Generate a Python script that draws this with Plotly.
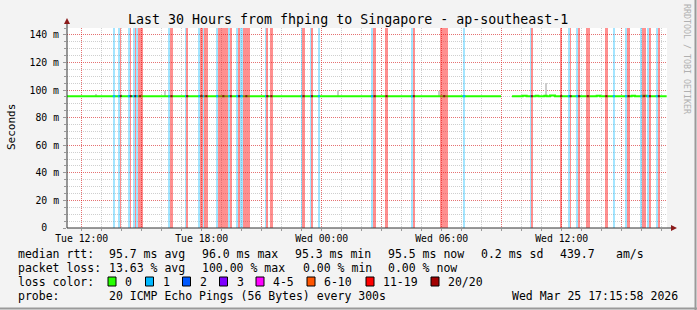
import plotly.graph_objects as go
from datetime import datetime, timedelta

# ---------------- data ----------------
WINDOW_START = "2026-03-24 11:15:58"
WINDOW_END = "2026-03-25 17:15:58"
DAY = {"Tue": "2026-03-24", "Wed": "2026-03-25"}

# loss periods (lost pings out of 20)
loss_start = ["Tue 13:33", "Tue 13:48", "Tue 13:55", "Tue 14:18", "Tue 14:25", "Tue 14:33", "Tue 14:39",
              "Tue 14:42", "Tue 14:48", "Tue 16:20", "Tue 16:24", "Tue 17:10", "Tue 17:13", "Tue 17:50",
              "Tue 17:55", "Tue 18:03", "Tue 18:08", "Tue 18:43", "Tue 18:50", "Tue 19:20", "Tue 19:25",
              "Tue 19:43", "Tue 19:50", "Tue 19:55", "Tue 20:03", "Tue 21:10", "Tue 21:14", "Tue 21:25",
              "Tue 22:57", "Tue 23:02", "Tue 23:25", "Tue 23:28", "Tue 23:48",
              "Wed 02:28", "Wed 02:35", "Wed 03:11", "Wed 04:28", "Wed 04:33", "Wed 05:56", "Wed 07:03",
              "Wed 10:26", "Wed 10:28", "Wed 11:55", "Wed 12:18", "Wed 12:25", "Wed 12:42", "Wed 12:50",
              "Wed 13:12", "Wed 14:10", "Wed 14:33", "Wed 15:10", "Wed 15:17", "Wed 15:56", "Wed 16:02",
              "Wed 16:15", "Wed 16:23", "Wed 16:42", "Wed 16:48"]
loss_end = ["Tue 13:41", "Tue 13:55", "Tue 13:59", "Tue 14:25", "Tue 14:29", "Tue 14:39", "Tue 14:42",
            "Tue 14:48", "Tue 15:03", "Tue 16:24", "Tue 16:35", "Tue 17:13", "Tue 17:20", "Tue 17:55",
            "Tue 18:03", "Tue 18:08", "Tue 18:20", "Tue 18:50", "Tue 19:20", "Tue 19:25", "Tue 19:30",
            "Tue 19:50", "Tue 19:55", "Tue 20:03", "Tue 20:25", "Tue 21:14", "Tue 21:20", "Tue 21:33",
            "Tue 23:02", "Tue 23:10", "Tue 23:28", "Tue 23:34", "Tue 23:55",
            "Wed 02:35", "Wed 02:43", "Wed 03:18", "Wed 04:33", "Wed 04:40", "Wed 06:19", "Wed 07:11",
            "Wed 10:28", "Wed 10:33", "Wed 12:02", "Wed 12:25", "Wed 12:28", "Wed 12:50", "Wed 12:55",
            "Wed 13:25", "Wed 14:18", "Wed 14:40", "Wed 15:17", "Wed 15:25", "Wed 16:02", "Wed 16:13",
            "Wed 16:23", "Wed 16:27", "Wed 16:48", "Wed 16:55"]
loss_count = [1, 1, 15, 1, 15, 1, 15, 1, 15, 1, 15, 1, 15, 1, 15, 1, 15, 1, 15, 1, 15,
              1, 15, 1, 15, 1, 15, 15, 1, 15, 1, 15, 1,
              1, 15, 15, 1, 15, 15, 1,
              1, 15, 15, 1, 15, 1, 15, 15, 15, 1, 1, 15, 1, 15, 1, 15, 1, 15]

# median rtt (ms); None = no data
median_time = ["Tue 11:16", "Wed 08:58", "Wed 08:59", "Wed 09:31", "Wed 10:03", "Wed 10:15", "Wed 10:42",
               "Wed 10:50", "Wed 11:08", "Wed 11:15", "Wed 11:25", "Wed 11:40", "Wed 13:45", "Wed 13:55",
               "Wed 15:30", "Wed 15:40", "Wed 16:05", "Wed 16:15", "Wed 17:15"]
median_ms = [95.6, 95.6, None, 95.5, 95.8, 95.5, 95.8, 95.5, 95.8, 95.5, 96.0, 95.6, 95.8, 95.5,
             95.8, 95.5, 95.8, 95.5, 95.5]

# smoke (ping spread)
smoke_time = ["Tue 12:43", "Tue 16:10", "Wed 00:50", "Wed 05:52", "Wed 11:14"]
smoke_lo = [95.5, 95.8, 95.8, 95.8, 95.7]
smoke_hi = [97.0, 99.4, 100.0, 99.3, 105.3]

y_ticks = [0, 20, 40, 60, 80, 100, 120, 140]
y_tick_labels = ["0\u00a0\u00a0", "20 m", "40 m", "60 m", "80 m", "100 m", "120 m", "140 m"]
x_label_times = ["Tue 12:00", "Tue 18:00", "Wed 00:00", "Wed 06:00", "Wed 12:00"]
x_grid_times = ["Tue 12:00", "Tue 15:00", "Tue 18:00", "Tue 21:00", "Wed 00:00", "Wed 03:00",
                "Wed 06:00", "Wed 09:00", "Wed 12:00", "Wed 15:00"]

loss_bins = ["0", "1", "2", "3", "4-5", "6-10", "11-19", "20/20"]
loss_bin_max = [0, 1, 2, 3, 5, 10, 19, 20]
loss_bin_colors = ["#26ff00", "#00b8ff", "#0059ff", "#7e00ff", "#ff00ff", "#ff5500", "#ff0000", "#a10000"]

rtt_stats = [("median rtt:", 16), ("95.7 ms avg", 107), ("96.0 ms max", 200), ("95.3 ms min", 293),
             ("95.5 ms now", 386), ("0.2 ms sd", 479), ("439.7", 558), ("am/s", 614)]
loss_stats = [("packet loss:", 16), ("13.63 % avg", 107), ("100.00 % max", 200), ("0.00 % min", 300.5),
              ("0.00 % now", 386)]
probe_text = "20 ICMP Echo Pings (56 Bytes) every 300s"
stamp_text = "Wed Mar 25 17:15:58 2026"
title_text = "Last 30 Hours from fhping to Singapore - ap-southeast-1"

# ---------------- helpers ----------------
def ts(s):
    d, t = s.split()
    return datetime.strptime(DAY[d] + " " + t, "%Y-%m-%d %H:%M")

def bin_color(n):
    for mx, c in zip(loss_bin_max, loss_bin_colors):
        if n <= mx:
            return c
    return loss_bin_colors[-1]

def rgba(hexc, a):
    h = hexc.lstrip("#")
    return "rgba(%d,%d,%d,%.3f)" % (int(h[0:2], 16), int(h[2:4], 16), int(h[4:6], 16), a)

W, H = 697, 310
PL, PR, PT, PB = 67, 667, 28, 228
def px(x):
    return (x - PL) / (PR - PL)
def py(y):
    return (PB - y) / (PB - PT)

MONO = "DejaVu Sans Mono"
fig = go.Figure()

# loss background bands
starts = [ts(s) for s in loss_start]
ends = [ts(s) for s in loss_end]
mids = [a + (b - a) / 2 for a, b in zip(starts, ends)]
widths = [(b - a).total_seconds() * 1000 for a, b in zip(starts, ends)]
band_colors = [rgba(bin_color(n), 0.36 if n == 1 else 0.44) for n in loss_count]
fig.add_trace(go.Bar(x=mids, y=[1] * len(mids), width=widths, base=0, yaxis="y2",
                     marker=dict(color=band_colors, line=dict(width=0)), hoverinfo="skip", showlegend=False))

# smoke
st = [ts(s) for s in smoke_time]
fig.add_trace(go.Bar(x=st, y=[h - l for l, h in zip(smoke_lo, smoke_hi)], base=smoke_lo,
                     width=[6 * 60 * 1000] * len(st), marker=dict(color="#cccccc", line=dict(width=0)),
                     hoverinfo="skip", showlegend=False))

# median line
fig.add_trace(go.Scatter(x=[ts(s) for s in median_time], y=median_ms, mode="lines",
                         line=dict(color=loss_bin_colors[0], width=2, shape="hv"),
                         connectgaps=False, hoverinfo="skip", showlegend=False))

# loss-coloured pieces of the median line
seg_x, seg_y = [], []
dot_x, dot_y = [], []
for a, b, n in zip(starts, ends, loss_count):
    if n == 1:
        seg_x += [a, b, None]
        seg_y += [95.6, 95.6, None]
    else:
        dot_x.append(a + (b - a) / 2)
        dot_y.append(95.6)
fig.add_trace(go.Scatter(x=seg_x, y=seg_y, mode="lines", line=dict(color=loss_bin_colors[1], width=2),
                         hoverinfo="skip", showlegend=False))
fig.add_trace(go.Scatter(x=dot_x, y=dot_y, mode="markers",
                         marker=dict(color="#222222", size=2, symbol="square"),
                         hoverinfo="skip", showlegend=False))

GRID_MAJOR = "rgba(255,0,0,0.45)"
GRID_MINOR = "rgba(128,128,128,0.38)"
DOTS = "1px,1px"

fig.update_layout(
    width=W, height=H,
    margin=dict(l=PL, r=W - PR, t=PT, b=H - PB, pad=0),
    paper_bgcolor="#f3f3f3", plot_bgcolor="#ffffff",
    barmode="overlay", bargap=0,
    font=dict(family=MONO, size=10, color="#000000"),
    xaxis=dict(
        type="date", range=[WINDOW_START, WINDOW_END],
        tickmode="array", tickvals=[ts(s) for s in x_grid_times],
        ticktext=[s if s in x_label_times else "" for s in x_grid_times],
        showgrid=True, gridcolor=GRID_MAJOR, griddash=DOTS, gridwidth=1,
        ticks="outside", ticklen=2, tickcolor="#999999",
        tickfont=dict(family=MONO, size=9.8, color="#000000"),
        minor=dict(tickmode="linear", tick0="2026-03-24 12:00", dtick=3600000, showgrid=True,
                   gridcolor=GRID_MINOR, griddash=DOTS, ticks="outside", ticklen=2, tickcolor="#999999"),
        showline=False, zeroline=False, fixedrange=True, ticklabelstandoff=-1,
    ),
    yaxis=dict(
        range=[0, 145], tickmode="array", tickvals=y_ticks, ticktext=y_tick_labels,
        showgrid=True, gridcolor=GRID_MAJOR, griddash=DOTS, gridwidth=1,
        ticks="outside", ticklen=3, tickcolor="#999999",
        tickfont=dict(family=MONO, size=9.8, color="#000000"),
        minor=dict(tickmode="linear", tick0=0, dtick=5, showgrid=True, gridcolor=GRID_MINOR,
                   griddash=DOTS, ticks="outside", ticklen=2, tickcolor="#999999"),
        showline=False, zeroline=False, fixedrange=True, ticklabelstandoff=2,
    ),
    yaxis2=dict(range=[0, 1], overlaying="y", visible=False, fixedrange=True),
)

shapes = []
# axes with arrows
shapes.append(dict(type="line", xref="paper", yref="paper", x0=px(67), x1=px(672), y0=0, y1=0,
                   line=dict(color="#333333", width=1)))
shapes.append(dict(type="line", xref="paper", yref="paper", x0=0, x1=0, y0=0, y1=py(22),
                   line=dict(color="#333333", width=1)))
shapes.append(dict(type="path", xref="paper", yref="paper",
                   path="M %f %f L %f %f L %f %f Z" % (px(64), py(24), px(70), py(24), px(67), py(18)),
                   fillcolor="#8b1a1a", line=dict(width=0)))
shapes.append(dict(type="path", xref="paper", yref="paper",
                   path="M %f %f L %f %f L %f %f Z" % (px(671), py(225), px(671), py(231), px(677), py(228)),
                   fillcolor="#8b1a1a", line=dict(width=0)))
# frame shading
shapes.append(dict(type="line", xref="paper", yref="paper", x0=px(695.5), x1=px(695.5), y0=py(0), y1=py(310),
                   line=dict(color="#9a9a9a", width=2)))
shapes.append(dict(type="line", xref="paper", yref="paper", x0=px(0), x1=px(697), y0=py(308.5), y1=py(308.5),
                   line=dict(color="#9a9a9a", width=2)))
# loss color swatches
sw_x = [108, 145.5, 182.5, 219.5, 256, 307, 366, 431]
lbl_x = [123, 160.5, 197.5, 234.5, 271, 321.5, 380.5, 445.5]
for c, x in zip(loss_bin_colors, sw_x):
    shapes.append(dict(type="rect", xref="paper", yref="paper", x0=px(x), x1=px(x + 8),
                       y0=py(286), y1=py(277), fillcolor=c, line=dict(color="#000000", width=1)))
fig.update_layout(shapes=shapes)

ann = []
def txt(s, x, y, size=11.5, anchor="left", color="#000000", angle=0, yanchor="middle"):
    ann.append(dict(text=s.replace(" ", "\u00a0"), x=px(x), y=py(y), xref="paper", yref="paper",
                    xanchor=anchor, yanchor=yanchor, showarrow=False, textangle=angle,
                    font=dict(family=MONO, size=size, color=color)))

txt(title_text, 348, 19, size=13.3, anchor="center")
txt("Seconds", 11, 127, size=11, anchor="center", angle=-90)
txt("RRDTOOL / TOBI OETIKER", 687, 59, size=8.3, anchor="center", angle=90, color="#b0b0b0")
for s, x in rtt_stats:
    txt(s, x, 254)
for s, x in loss_stats:
    txt(s, x, 268)
txt("loss color:", 16, 282)
for s, x in zip(loss_bins, lbl_x):
    txt(s, x, 282)
txt("probe:", 16, 296)
txt(probe_text, 107, 296)
txt(stamp_text, 680, 296, anchor="right")
fig.update_layout(annotations=ann)

fig.write_html("out.html")
